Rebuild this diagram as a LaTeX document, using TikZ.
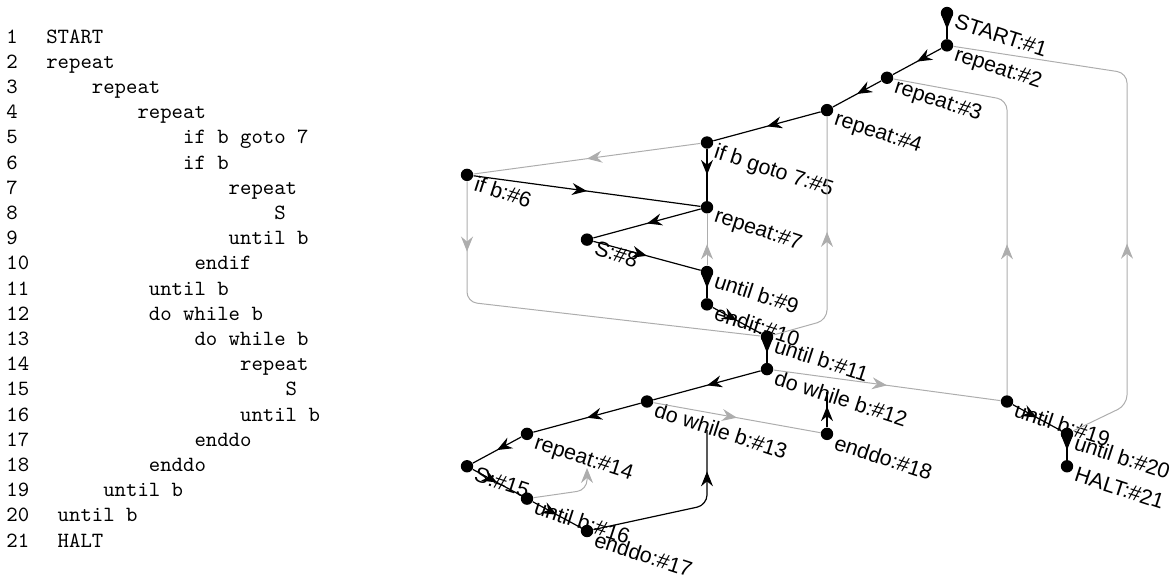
\documentclass[tikz,border=0pt]{standalone}
\usepackage{fontspec}
\setsansfont{Liberation Sans}
\usetikzlibrary{arrows.meta}
\usetikzlibrary{decorations.markings}

\definecolor{loopgray}{gray}{0.68}

\begin{document}
\begin{tikzpicture}[
    x=0.5pt, y=-0.5pt,
    >={Stealth[length=7.5pt, width=6pt, inset=2.5pt]},
    % Define the style for the nodes
    stmt/.style={circle, fill=black, minimum size=6.2pt, inner sep=0pt},
    tag/.style={anchor=north west, rotate=-18, inner sep=0pt, font=\sffamily\fontsize{10.7}{13}\selectfont},
    code/.style={anchor=base west, inner sep=0pt, font=\ttfamily\fontsize{10.86}{13}\selectfont},
    flow/.style={draw=black, line width=0.6pt, postaction={decorate},
        decoration={markings, mark=at position #1 with {\arrow[black]{>}}}},
    flow/.default=0.5,
    back/.style={draw=loopgray, line width=0.5pt, rounded corners=5pt, postaction={decorate},
        decoration={markings, mark=at position #1 with {\arrow[loopgray]{>}}}},
    back/.default=0.5
]
    \useasboundingbox (0,0) rectangle (1170,580);

    % listing
    \foreach \n/\i/\t [evaluate=\i as \gap using (2.5+\i)*5.7] in {1/0/START, 2/0/repeat, 3/4/repeat,
        4/8/repeat, 5/12/if b goto 7, 6/12/if b, 7/16/repeat, 8/20/S, 9/16/until b, 10/12/endif,
        11/8/until b, 12/8/do while b, 13/12/do while b, 14/16/repeat, 15/20/S, 16/16/until b,
        17/12/enddo, 18/8/enddo, 19/4/until b, 20/0/until b, 21/0/HALT} {
        \node[code] (l\n) at (6, 43+25.2*\n-25.2) {\n\hspace*{\gap pt}\t};
    }

    % statements
    \foreach \n/\c/\r/\t in {1/8/0/START, 2/8/1/repeat, 3/7/2/repeat, 4/6/3/repeat, 5/4/4/if b goto 7,
        6/0/5/if b, 7/4/6/repeat, 8/2/7/S, 9/4/8/until b, 10/4/9/endif, 11/5/10/until b,
        12/5/11/do while b, 13/3/12/do while b, 14/1/13/repeat, 15/0/14/S, 16/1/15/until b,
        17/2/16/enddo, 18/6/13/enddo, 19/9/12/until b, 20/10/13/until b, 21/10/14/HALT} {
        \node[stmt] (n\n) at (467+60*\c, 13+32.375*\r) {};
        \node[tag] (t\n) at ([xshift=2pt]n\n.east) {\t:\#\n};
    }

    % loose ends
    \coordinate (e12) at (827,392);
    \coordinate (e13) at (707,430);
    \coordinate (e14) at (587,468);

    % sequential flow
    \foreach \a/\b in {1/2, 2/3, 3/4, 4/5, 5/7, 6/7, 7/8, 8/9, 9/10, 10/11, 11/12,
        12/13, 13/14, 14/15, 15/16, 16/17, 19/20, 20/21} {
        \path[flow] (n\a) -- (n\b);
    }
    \path[flow=0.78, rounded corners=5pt] (n17) -- (707,505) -- (e13);
    \path[flow=0.6] (n18) -- (e12);

    % branches and loops
    \path[back] (n5) -- (n6);
    \path[back=0.17] (n6) -- (467,302) -- (n11);
    \path[back=0.41] (n9) -- (n7);
    \path[back=0.55] (n11) -- (827,320) -- (n4);
    \path[back] (n12) -- (n19);
    \path[back] (n13) -- (n18);
    \path[back=0.37] (n19) -- (1007,100) -- (n3);
    \path[back=0.39] (n20) -- (1127,405) -- (1127,73) -- (n2);
    \draw[loopgray, line width=0.5pt, rounded corners=5pt, ->] (n16) -- (587,490) -- (e14);

\end{tikzpicture}
\end{document}
